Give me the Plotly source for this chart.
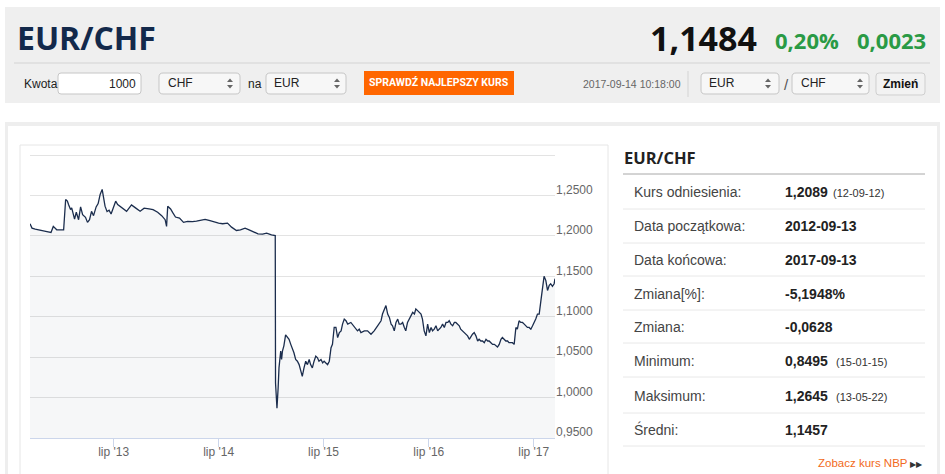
import plotly.graph_objects as go

# EUR/CHF daily rate, before and after the SNB floor removal
dates_floor = [
    "2012-09-13", "2012-09-20", "2012-10-01", "2012-10-15", "2012-11-01", "2012-11-15",
    "2012-11-25", "2012-12-03", "2012-12-15", "2013-01-01", "2013-01-08", "2013-01-15",
    "2013-01-21", "2013-01-25", "2013-02-01", "2013-02-05", "2013-02-08", "2013-02-15",
    "2013-02-21", "2013-03-01", "2013-03-08", "2013-03-15", "2013-03-25", "2013-04-01",
    "2013-04-08", "2013-04-15", "2013-04-22", "2013-05-01", "2013-05-08", "2013-05-15",
    "2013-05-22", "2013-05-27", "2013-06-01", "2013-06-08", "2013-06-15", "2013-06-22",
    "2013-07-01", "2013-07-08", "2013-07-15", "2013-08-01", "2013-08-15", "2013-09-01",
    "2013-09-08", "2013-09-15", "2013-10-01", "2013-10-15", "2013-11-01", "2013-11-15",
    "2013-12-01", "2013-12-15", "2013-12-27", "2014-01-01", "2014-01-05", "2014-01-15",
    "2014-01-22", "2014-02-01", "2014-02-15", "2014-03-01", "2014-03-15", "2014-04-01",
    "2014-04-15", "2014-05-01", "2014-05-15", "2014-06-01", "2014-06-15", "2014-07-01",
    "2014-07-15", "2014-08-01", "2014-08-15", "2014-09-01", "2014-09-15", "2014-10-01",
    "2014-10-15", "2014-11-01", "2014-11-15", "2014-12-01", "2014-12-15", "2015-01-01",
    "2015-01-14",
]
rates_floor = [
    1.2150, 1.2096, 1.2083, 1.2075, 1.2067, 1.2050,
    1.2042, 1.2117, 1.2075, 1.2075, 1.2075, 1.2450,
    1.2430, 1.2388, 1.2325, 1.2346, 1.2304, 1.2208,
    1.2292, 1.2200, 1.2358, 1.2263, 1.2230, 1.2167,
    1.2200, 1.2304, 1.2250, 1.2358, 1.2400, 1.2513,
    1.2575, 1.2480, 1.2367, 1.2300, 1.2317, 1.2270,
    1.2367, 1.2429, 1.2388, 1.2346, 1.2304, 1.2383,
    1.2360, 1.2346, 1.2304, 1.2342, 1.2333, 1.2325,
    1.2292, 1.2250, 1.2200, 1.2117, 1.2367, 1.2333,
    1.2290, 1.2233, 1.2221, 1.2167, 1.2179, 1.2175,
    1.2183, 1.2192, 1.2204, 1.2188, 1.2171, 1.2158,
    1.2150, 1.2158, 1.2108, 1.2067, 1.2075, 1.2096,
    1.2075, 1.2046, 1.2025, 1.2021, 1.2033, 1.2013,
    1.2004,
]

dates_after = [
    "2015-01-15", "2015-01-20", "2015-01-24", "2015-01-27", "2015-02-02", "2015-02-05",
    "2015-02-08", "2015-02-13", "2015-02-19", "2015-02-25", "2015-03-03", "2015-03-09",
    "2015-03-14", "2015-03-20", "2015-03-26", "2015-04-01", "2015-04-07", "2015-04-13",
    "2015-04-18", "2015-04-24", "2015-04-30", "2015-05-06", "2015-05-12", "2015-05-17",
    "2015-05-23", "2015-05-29", "2015-06-04", "2015-06-10", "2015-06-15", "2015-06-22",
    "2015-06-28", "2015-07-03", "2015-07-09", "2015-07-15", "2015-07-21", "2015-07-27",
    "2015-08-01", "2015-08-07", "2015-08-13", "2015-08-19", "2015-08-25", "2015-08-31",
    "2015-09-05", "2015-09-11", "2015-09-17", "2015-09-23", "2015-10-04", "2015-10-16",
    "2015-10-21", "2015-10-27", "2015-11-02", "2015-11-08", "2015-11-20", "2015-12-01",
    "2015-12-13", "2015-12-24", "2016-01-05", "2016-01-11", "2016-01-17", "2016-01-22",
    "2016-01-28", "2016-02-03", "2016-02-09", "2016-02-15", "2016-02-21", "2016-02-26",
    "2016-03-03", "2016-03-09", "2016-03-15", "2016-03-20", "2016-03-26", "2016-04-01",
    "2016-04-07", "2016-04-12", "2016-04-18", "2016-04-24", "2016-04-30", "2016-05-06",
    "2016-05-12", "2016-05-17", "2016-05-23", "2016-05-29", "2016-06-04", "2016-06-09",
    "2016-06-15", "2016-06-21", "2016-06-27", "2016-07-03", "2016-07-09", "2016-07-14",
    "2016-07-20", "2016-07-26", "2016-08-01", "2016-08-06", "2016-08-12", "2016-08-18",
    "2016-08-24", "2016-08-30", "2016-09-05", "2016-09-10", "2016-09-16", "2016-09-22",
    "2016-09-28", "2016-10-03", "2016-10-09", "2016-10-15", "2016-10-20", "2016-10-26",
    "2016-11-01", "2016-11-07", "2016-11-13", "2016-11-19", "2016-11-25", "2016-11-30",
    "2016-12-06", "2016-12-12", "2016-12-18", "2016-12-23", "2016-12-29", "2017-01-04",
    "2017-01-10", "2017-01-16", "2017-01-22", "2017-01-27", "2017-02-02", "2017-02-08",
    "2017-02-14", "2017-02-19", "2017-02-25", "2017-03-03", "2017-03-09", "2017-03-14",
    "2017-03-20", "2017-03-26", "2017-04-01", "2017-04-06", "2017-04-12", "2017-04-18",
    "2017-04-24", "2017-04-30", "2017-05-05", "2017-05-11", "2017-05-17", "2017-05-23",
    "2017-05-29", "2017-06-04", "2017-06-09", "2017-06-15", "2017-06-21", "2017-06-27",
    "2017-07-03", "2017-07-08", "2017-07-14", "2017-07-20", "2017-07-26", "2017-08-01",
    "2017-08-06", "2017-08-12", "2017-08-18", "2017-08-24", "2017-08-29", "2017-09-04",
    "2017-09-10", "2017-09-13",
]
rates_after = [
    1.0180, 0.9867, 1.0117, 1.0367, 1.0575, 1.0471,
    1.0575, 1.0640, 1.0775, 1.0742, 1.0721, 1.0658,
    1.0617, 1.0554, 1.0471, 1.0450, 1.0408, 1.0325,
    1.0263, 1.0367, 1.0450, 1.0408, 1.0471, 1.0408,
    1.0367, 1.0450, 1.0513, 1.0492, 1.0450, 1.0471,
    1.0429, 1.0450, 1.0429, 1.0408, 1.0450, 1.0617,
    1.0658, 1.0867, 1.0867, 1.0742, 1.0804, 1.0825,
    1.0908, 1.0971, 1.0950, 1.0908, 1.0929, 1.0867,
    1.0846, 1.0825, 1.0846, 1.0804, 1.0825, 1.0825,
    1.0783, 1.0825, 1.0888, 1.0929, 1.0950, 1.1033,
    1.1096, 1.1138, 1.1033, 1.0992, 1.0908, 1.0888,
    1.0825, 1.0929, 1.0971, 1.0908, 1.0908, 1.0929,
    1.0867, 1.0825, 1.0929, 1.0971, 1.1013, 1.1054,
    1.1033, 1.1096, 1.1075, 1.1054, 1.1033, 1.0971,
    1.0825, 1.0763, 1.0908, 1.0804, 1.0867, 1.0825,
    1.0846, 1.0888, 1.0825, 1.0846, 1.0867, 1.0908,
    1.0867, 1.0929, 1.0929, 1.0950, 1.0908, 1.0888,
    1.0929, 1.0929, 1.0908, 1.0888, 1.0846, 1.0825,
    1.0804, 1.0783, 1.0763, 1.0721, 1.0763, 1.0783,
    1.0804, 1.0763, 1.0700, 1.0721, 1.0700, 1.0700,
    1.0679, 1.0721, 1.0700, 1.0700, 1.0679, 1.0658,
    1.0658, 1.0638, 1.0625, 1.0658, 1.0721, 1.0742,
    1.0721, 1.0700, 1.0700, 1.0679, 1.0679, 1.0679,
    1.0658, 1.0867, 1.0846, 1.0950, 1.0929, 1.0929,
    1.0908, 1.0888, 1.0867, 1.0867, 1.0846, 1.0888,
    1.0929, 1.0971, 1.1033, 1.1033, 1.1200, 1.1367,
    1.1500, 1.1450, 1.1325, 1.1388, 1.1408, 1.1375,
    1.1408, 1.1471,
]

x_tick_dates = ["2013-07-01", "2014-07-01", "2015-07-01", "2016-07-01", "2017-07-01"]
x_tick_labels = ["lip '13", "lip '14", "lip '15", "lip '16", "lip '17"]
y_tick_vals = [0.95, 1.00, 1.05, 1.10, 1.15, 1.20, 1.25, 1.30]
y_tick_labels = ["0,9500", "1,0000", "1,0500", "1,1000", "1,1500", "1,2000", "1,2500", ""]

# side table
stat_labels = ["Kurs odniesienia:", "Data początkowa:", "Data końcowa:", "Zmiana[%]:",
               "Zmiana:", "Minimum:", "Maksimum:", "Średni:"]
stat_values = ["1,2089", "2012-09-13", "2017-09-13", "-5,1948%",
               "-0,0628", "0,8495", "1,2645", "1,1457"]
stat_notes = ["(12-09-12)", "", "", "", "", "(15-01-15)", "(13-05-22)", ""]

W, H = 945, 474
ARIAL = "Liberation Sans, Arial, sans-serif"
OPEN = "Open Sans, sans-serif"


def px(x):
    return x / W


def py(y):
    return 1 - y / H


def rect(x0, y0, x1, y1, fill):
    return dict(type="rect", xref="paper", yref="paper", x0=px(x0), x1=px(x1),
                y0=py(y1), y1=py(y0), fillcolor=fill, layer="below", line=dict(width=0))


def rrect(x0, y0, x1, y1, fill, line, r=4):
    p = lambda x, y: f"{px(x):.5f},{py(y):.5f}"
    path = (f"M{p(x0 + r, y0)} L{p(x1 - r, y0)} Q{p(x1, y0)} {p(x1, y0 + r)} "
            f"L{p(x1, y1 - r)} Q{p(x1, y1)} {p(x1 - r, y1)} L{p(x0 + r, y1)} "
            f"Q{p(x0, y1)} {p(x0, y1 - r)} L{p(x0, y0 + r)} Q{p(x0, y0)} {p(x0 + r, y0)} Z")
    return dict(type="path", xref="paper", yref="paper", path=path, fillcolor=fill,
                line=dict(color=line, width=1), layer="below")


def seg(x0, y0, x1, y1, color, w=1):
    return dict(type="line", xref="paper", yref="paper", x0=px(x0), x1=px(x1),
                y0=py(y0), y1=py(y1), line=dict(color=color, width=w), layer="below")


def arrows(cx, cy):
    p = lambda x, y: f"{px(x):.5f},{py(y):.5f}"
    up = f"M{p(cx - 3, cy - 1.5)} L{p(cx + 3, cy - 1.5)} L{p(cx, cy - 5)} Z"
    dn = f"M{p(cx - 3, cy + 1.5)} L{p(cx + 3, cy + 1.5)} L{p(cx, cy + 5)} Z"
    return [dict(type="path", xref="paper", yref="paper", path=s, fillcolor="#666",
                 line=dict(width=0)) for s in (up, dn)]


def text(x, y, s, size, color="#333", family=ARIAL, xanchor="left"):
    return dict(x=px(x), y=py(y), xref="paper", yref="paper", text=s, showarrow=False,
                xanchor=xanchor, yanchor="middle", font=dict(size=size, color=color, family=family))


shapes = [
    rect(5, 7, 940, 103, "#efefef"),
    seg(14, 63, 930, 63, "#d3d3d3"),
    rect(5, 122, 940, 474, "#eeeeee"),
    rect(8, 126, 937, 474, "#ffffff"),
    seg(20, 145, 608, 145, "#e6e6e6"),
    seg(20, 145, 20, 474, "#e6e6e6"),
    seg(608, 145, 608, 474, "#e6e6e6"),
    rrect(58, 73, 141, 94, "#ffffff", "#c6c6c6", 3),
    rrect(159, 73, 240, 94, "#f7f7f7", "#c6c6c6"),
    rrect(266, 73, 346, 94, "#f7f7f7", "#c6c6c6"),
    rect(364, 71, 514, 95, "#ff6600"),
    seg(688, 71, 688, 97, "#d3d3d3"),
    rrect(701, 73, 779, 94, "#f7f7f7", "#c6c6c6"),
    rrect(792, 73, 869, 94, "#f7f7f7", "#c6c6c6"),
    rrect(876, 73, 925, 95, "#f2f2f2", "#cfcfcf", 3),
    seg(623, 174, 925, 174, "#a8a8a8"),
]
for yy in [209, 243, 276, 310, 343, 377, 413, 446]:
    shapes.append(seg(623, yy, 925, yy, "#e8e8e8"))
for cx in [230, 337, 768, 860]:
    shapes += arrows(cx, 83.5)

annotations = [
    text(15, 37, "<b>EUR/CHF</b>", 32, "#13294b", OPEN),
    text(759, 38, "<b>1,1484</b>", 34, "#111111", OPEN, "right"),
    text(773, 39.5, "<b>0,20%</b>", 22, "#2a9a45", OPEN),
    text(855, 39.5, "<b>0,0023</b>", 22, "#2a9a45", OPEN),
    text(22, 83.5, "Kwota", 12, "#222"),
    text(137.5, 83.5, "1000", 12, "#222", xanchor="right"),
    text(166, 83, "CHF", 12, "#222"),
    text(246, 83.5, "na", 12, "#222"),
    text(272, 83, "EUR", 12, "#222"),
    text(439, 83, "<b>SPRAWDŹ NAJLEPSZY KURS</b>", 10.5, "#ffffff", "Roboto, sans-serif", "center"),
    text(581, 84, "2017-09-14 10:18:00", 10.5, "#666"),
    text(707, 83, "EUR", 12, "#222"),
    text(786, 84, "/", 15, "#555", xanchor="center"),
    text(799, 83, "CHF", 12, "#222"),
    text(900.5, 84, "<b>Zmień</b>", 12, "#111", xanchor="center"),
    text(622, 158, "<b>EUR/CHF</b>", 16.5, "#222", OPEN),
    text(925, 463, "Zobacz kurs NBP <span style='font-size:8px;color:#333'>▶▶</span>",
         11.5, "#f26a21", xanchor="right"),
]
row_y = [192, 226, 260, 294, 327, 361, 396, 429.5]
for lab, val, note, yy in zip(stat_labels, stat_values, stat_notes, row_y):
    annotations.append(text(632, yy, lab, 14, "#444"))
    annotations.append(text(783, yy, f"<b>{val}</b>", 14, "#222"))
    if note:
        annotations.append(text(831 if lab.startswith("Kurs") else 834, yy + 0.5, note, 11, "#333"))

fig = go.Figure(go.Scatter(
    x=dates_floor + dates_after, y=rates_floor + rates_after, mode="lines",
    line=dict(color="#1b2d4d", width=1.3), fill="tozeroy", fillcolor="rgba(40,60,100,0.045)",
    hoverinfo="skip",
))

fig.update_layout(
    width=W, height=H, margin=dict(l=0, r=0, t=0, b=0, autoexpand=False),
    paper_bgcolor="#ffffff", plot_bgcolor="rgba(0,0,0,0)",
    showlegend=False, separators=", ", hovermode=False,
    shapes=shapes, annotations=annotations,
    xaxis=dict(domain=[px(30), px(555)], type="date", range=["2012-09-13", "2017-09-13"],
               tickvals=x_tick_dates, ticktext=x_tick_labels, showgrid=False, automargin=False,
               showline=True, linecolor="#ccd6eb", ticks="outside", ticklen=8, tickcolor="#ccd6eb",
               ticklabelstandoff=-5,
               tickfont=dict(size=12, color="#666", family=ARIAL), fixedrange=True),
    yaxis=dict(domain=[py(438), py(153.4)], range=[0.95, 1.302], side="right",
               tickvals=y_tick_vals, ticktext=y_tick_labels, gridcolor="#e3e3e3", automargin=False,
               showline=False, ticks="", zeroline=False, ticklabelshift=-6, ticklabelstandoff=0,
               tickfont=dict(size=12, color="#666", family=ARIAL), fixedrange=True),
)

# page body has a default 8px margin; drop it so the figure fills the window
fig.write_html("out.html", config={"displayModeBar": False},
               post_script="document.documentElement.style.overflow='hidden';"
                           "document.body.style.margin='0';")
